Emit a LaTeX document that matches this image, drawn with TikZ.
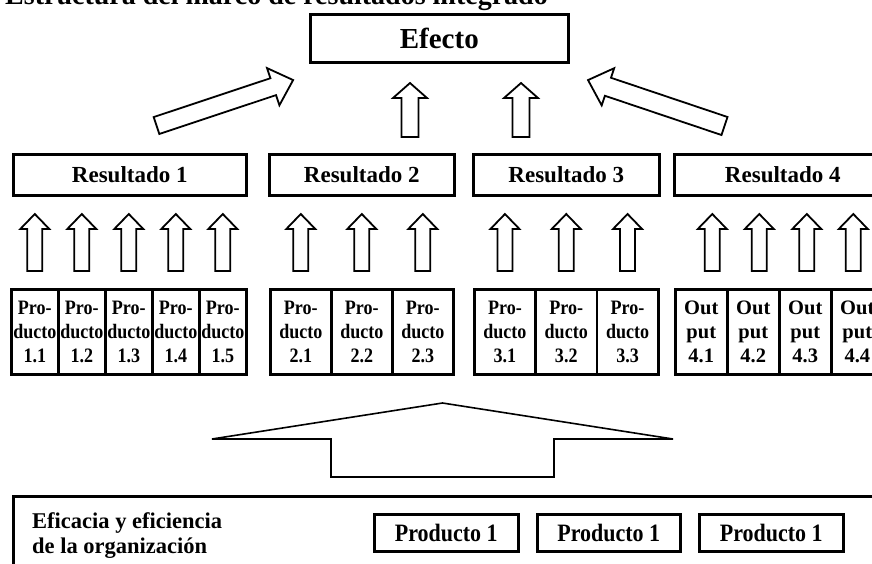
\documentclass[tikz,border=0pt]{standalone}
\usepackage{fontspec}
\setmainfont{Liberation Serif}
\newfontfamily\condfont[FakeStretch=0.88]{Liberation Serif}
\usetikzlibrary{calc}

% outlined block arrow along +x: #1 placement, #2 length, #3 half shaft, #4 half head, #5 head length
\newcommand\blockarrow[5]{%
  \draw[blockarr, #1] (0,-#3) -- ({#2-#5},-#3) -- ({#2-#5},-#4) -- (#2,0)
    -- ({#2-#5},#4) -- ({#2-#5},#3) -- (0,#3) -- cycle;
}

\tikzset{
  box/.style={draw, line width=2.6pt, inner sep=0pt, anchor=north west},
  blockarr/.style={draw, line width=1.8pt, line join=miter, fill=white},
}

\begin{document}
\begin{tikzpicture}[x=1pt, y=-1pt, font=\bfseries]
  \clip (0,0) rectangle (872,563);
  % ------------------------------------------------------------------ title, cut by the top edge
  \node[anchor=base west, inner sep=0pt, font=\bfseries\fontsize{28}{31}\selectfont] (title)
    at (5,4.5) {Estructura del marco de resultados integrado};
  % ------------------------------------------------------------------ effect and results
  \node[box, minimum width=258, minimum height=48, font=\bfseries\fontsize{29}{32}\selectfont]
    (efecto) at (309,13) {Efecto};
  \foreach \i/\x/\w in {1/12/233, 2/268/185, 3/472/186, 4/673/217} {
    \node[box, minimum width=\w, minimum height=41, font=\bfseries\fontsize{23}{26}\selectfont]
      (r\i) at (\x,153) {Resultado \i};
  }
  \blockarrow{shift={(156.5,125.5)}, rotate=18.4}{144}{8.9}{19.6}{21}
  \blockarrow{shift={(410,137)}, rotate=90}{54}{8.5}{17}{15}
  \blockarrow{shift={(521,137)}, rotate=90}{54}{8.5}{17}{15}
  \blockarrow{shift={(724.5,126)}, rotate=161.4}{144}{9.5}{19.6}{21}
  % ------------------------------------------------------------------ products
  % group / left edge / width / count / font / first line / second line
  \foreach \g/\x/\w/\k/\ff/\la/\lb in {
      1/10/47/5/\condfont/Pro-/ducto, 2/269/61/3/\condfont/Pro-/ducto,
      3/473/61.3/3/\condfont/Pro-/ducto, 4/674/52/4/\rmfamily/Out/put} {
    \foreach \i in {1,...,\k} {
      \node[box, minimum width=\w, minimum height=85, align=center,
            font=\ff\bfseries\fontsize{20.5}{24}\selectfont]
        (p\g\i) at ({\x+(\i-1)*\w},288) {\la\\\lb\\\g.\i};
    }
  }
  \foreach \g/\k in {1/5, 2/3, 3/3} {
    \foreach \i in {1,...,\k} {
      \blockarrow{shift={($(p\g\i.north)+(0,-17)$)}, rotate=90}{57}{7.5}{14.5}{15}
    }
  }
  \foreach \i/\dx in {1/11, 2/6, 3/1.5, 4/-4} {
    \blockarrow{shift={($(p4\i.north)+(\dx,-17)$)}, rotate=90}{57}{7.5}{14.5}{15}
  }
  % ------------------------------------------------------------------ organisation
  \blockarrow{shift={(442.5,477)}, rotate=90, line width=1.6pt}{74}{111.5}{230.5}{36}
  \node[box, minimum width=900, minimum height=120] (org) at (12,495) {};
  \node[anchor=north west, inner sep=0pt, align=left, font=\bfseries\fontsize{22.5}{25}\selectfont]
    (orgtext) at (32,512.5) {Eficacia y eficiencia\\de la organización};
  \foreach \i/\x/\w in {1/373/144, 2/536/143, 3/698/144} {
    \node[box, minimum width=\w, minimum height=37, font=\condfont\bfseries\fontsize{25}{28}\selectfont]
      (u\i) at (\x,513) {Producto 1};
  }
\end{tikzpicture}
\end{document}
